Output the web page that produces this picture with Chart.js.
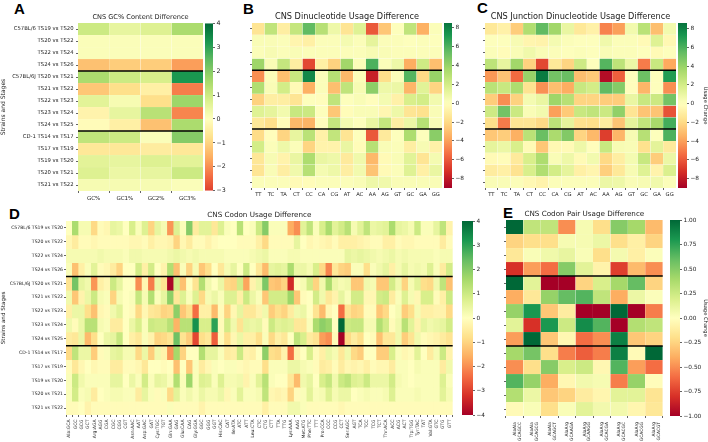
<!DOCTYPE html>
<html>
<head>
<meta charset="utf-8">
<title>CNS usage differences</title>
<script src="https://cdn.jsdelivr.net/npm/chart.js@4"></script>
<style>
    html, body { margin: 0; padding: 0; background: #fff; width: 708px; height: 442px; overflow: hidden; }
    canvas { position: absolute; }
    .letter { position: absolute; font: bold 15px "Liberation Sans", sans-serif; color: #000; line-height: 15px; }
</style>
</head>
<body>
<div class="letter" style="left:14px;top:1px">A</div>
<div class="letter" style="left:243px;top:1px">B</div>
<div class="letter" style="left:477px;top:0px">C</div>
<div class="letter" style="left:9px;top:206px">D</div>
<div class="letter" style="left:503px;top:205px">E</div>

<script>
// Row labels shared by panels A and D
const strainLabels = [
    'C57BL/6 TS19 vs TS20', 'TS20 vs TS22', 'TS22 vs TS24', 'TS24 vs TS26',
    'C57BL/6J TS20 vs TS21', 'TS21 vs TS22', 'TS22 vs TS23', 'TS23 vs TS24', 'TS24 vs TS25',
    'CD-1 TS14 vs TS17', 'TS17 vs TS19', 'TS19 vs TS20', 'TS20 vs TS21', 'TS21 vs TS22'
];
const strainBreaks = [4, 9];

// A
const gcLabels = ['GC%', 'GC1%', 'GC2%', 'GC3%'];
const gcValues = [
    [1, .5, .7, 1.5],
    [.1, .1, .1, .1],
    [.1, .1, .1, .1],
    [-1.3, -1.1, -1.1, -1.8],
    [1.5, 1, .8, 3.2],
    [-1.2, -.8, -.4, -2.2],
    [.6, .2, -.8, 1.7],
    [-.3, .5, 1.3, -2.1],
    [-.1, -.4, -1.3, 1.5],
    [1.2, 1, .1, 2],
    [-.6, -.6, -.5, -.6],
    [.6, .5, .7, .6],
    [.7, .4, .5, 1],
    [.2, .2, .2, .1]
];
const gcTicks = [4, 3, 2, 1, 0, -1, -2, -3];

// B and C
const dinucLabels = ['TT', 'TC', 'TA', 'CT', 'CC', 'CA', 'CG', 'AT', 'AC', 'AA', 'AG', 'GT', 'GC', 'GA', 'GG'];
const dinucValues = [
    [-1.5, 2.7, -1, 2.5, 5.5, 3, .8, -1.5, 1.5, -6, -2.7, .1, 2.7, -3.5, .2],
    [.3, .3, .2, -.6, -.9, .2, .2, .5, .2, 1.2, .2, .2, .1, .2, .1],
    [.2, .4, .2, .3, .2, .2, .2, .2, .2, .4, .3, .2, .2, .2, .2],
    [3.8, .3, 2.5, -1, -6.5, -.9, -2.3, 3.7, .2, 6, .2, .8, -3.6, 2.2, -3],
    [-4.5, .2, -3, 2.4, 7.8, .2, 3, -3.2, .2, -7.8, -1.8, .2, 5.8, -2, 4],
    [3.2, .3, 2, -.3, -3.5, .2, -3, 2.7, .4, 4.3, .8, .9, -3.3, 1.4, -2.2],
    [-2.3, -1, -1, -1.5, .1, -.1, 2.7, .1, .3, -.1, .5, -.8, 1.8, 2, .6],
    [1.5, 1.2, .6, 2.4, 2.3, .1, -2.7, -.2, .3, .3, -.5, .8, -1.5, -1.7, .3],
    [-1.3, -1.8, -.2, -3.2, -3.4, -.1, 2.5, .5, .1, 1, 2.5, -1, .9, 3, .3],
    [-1.9, -.1, -2.2, 1.1, 2.9, -.8, 2.6, -1.5, .1, -6, -1.2, .1, 3.3, .1, 4.4],
    [2, .2, .8, .2, -2.2, -.7, -.7, 1, -.2, 3, .3, .2, -1, .4, -.8],
    [-1.4, .4, -.7, 1, 3.3, 1, .8, -1.2, .7, -3.2, -.3, .3, 1.4, -1.5, .5],
    [-1.5, .3, -1, .7, 3, .5, .8, -1, .6, -2.8, -.3, .2, 1.5, -.9, 1],
    [.2, .2, .2, -.3, -.2, .2, .2, .2, .3, .8, .7, .3, .3, .3, .3]
];
const junctionValues = [
    [-1.3, -.8, -2.5, 3.2, 5.5, 3.7, 1, -1.3, -.8, -4.8, -4, .6, 2.9, -3, .6],
    [.1, .1, .4, -.6, -.7, .5, .2, .1, .1, .7, .2, .2, -.3, 1.5, -.4],
    [.2, -.2, .3, .7, .3, .2, .1, .2, .1, .3, .2, .2, .1, -.3, .1],
    [2.8, 1.1, 3.7, -2.3, -6.5, -1.3, -2.2, 2.2, .1, 5.8, 2.8, .9, -5, 2.4, -3.7],
    [-4.2, -2.8, -5.5, 4, 8.3, 5, 5.3, -3, -2.6, -8.5, -5.8, .1, 5.2, .1, 7],
    [2.9, 2.4, 3.3, -1.6, -4.4, -3, -3.6, 2.4, 2, 5.5, 4.5, -.1, -3.3, .1, -4.5],
    [-2.5, -4.5, -2.3, .5, 1, 3.8, 3, -2.2, -2.2, -2.5, -2.5, 1, 2.4, 2.3, 5],
    [2.2, 5, 2.3, .3, .6, -4, -2.6, 2.4, 2.7, 2.3, 4.2, -1.5, -2.8, -2.8, -6.2],
    [-1.8, -5, -1.5, -1.5, -2, 2.8, 1.2, -1.7, -1.8, -1.1, -2.8, 1.2, 2.6, 3.5, 6.2],
    [-2.7, -2.5, -3.5, 2.9, 5.3, 3.4, 4.6, -2.2, -3.2, -6.8, -3.3, .4, 3, .1, 6],
    [1.2, .9, 1.8, -.3, -2.7, -.4, -.3, .8, -.1, 2.4, .4, .3, -1.7, 1.3, -1.2],
    [-.3, -.2, -1.2, 1.8, 3.3, .3, .8, -.3, .6, -2, -1, .5, 2.4, -2.5, .9],
    [-1.1, -.9, -1.6, 1.8, 3.2, 2, 1.2, -.9, -.6, -2.4, -1.3, .4, 1.5, -.7, 1.7],
    [.3, .3, .2, -.4, -.7, .2, .2, .2, .2, .9, .8, .3, .4, .7, .2]
];
const dinucTicks = [8, 6, 4, 2, 0, -2, -4, -6, -8];

// D
const codonLabels = [
    'Ala:GCA', 'GCC', 'GCG', 'GCT', 'Arg:AGA', 'AGG', 'CGA', 'CGC', 'CGG', 'CGT',
    'Asn:AAC', 'AAT', 'Asp:GAC', 'GAT', 'Cys:TGC', 'TGT', 'Gln:GAA', 'GAG', 'Glu:CAA', 'CAG',
    'Gly:GGA', 'GGC', 'GGG', 'GGT', 'His:CAC', 'CAT', 'Ile:ATA', 'ATC', 'ATT', 'Leu:CTA',
    'CTC', 'CTG', 'CTT', 'TTA', 'TTG', 'Lys:AAA', 'AAG', 'Met:ATG', 'Phe:TTC', 'TTT',
    'Pro:CCA', 'CCC', 'CCG', 'CCT', 'Ser:AGC', 'AGT', 'TCA', 'TCC', 'TCG', 'TCT',
    'Thr:ACA', 'ACC', 'ACG', 'ACT', 'Trp:TGG', 'Tyr:TAC', 'TAT', 'Val:GTA', 'GTC', 'GTG', 'GTT'
];
const codonValues = [
    [0, 1.5, .2, .2, -.9, -.1, -.2, .5, .4, 0,
     .8, .1, .7, -1, .5, .2, -1.9, .7, .1, 2,
     -.5, .6, .6, -.6, .7, .1, 0, 1.3, 0, .1,
     1, 2, .1, .1, .1, -1.6, -2, .6, 1.2, .1,
     .8, 1.5, .6, .9, 1.3, .2, .6, 1.2, .4, .5,
     .6, 1.5, .5, .4, .2, 1, .1, .1, .5, 1.2, -.3],
    [-.2, -.5, -.1, -.1, -.2, -.1, -.1, -.1, -.1, -.1,
     -.2, -.2, -.1, -.4, -.2, -.2, -.3, -1, -.2, -.5,
     -.1, -.1, -.3, -.1, 0, 0, 0, -.1, -.1, -.1,
     -.4, -.9, -.1, -.1, -.1, -.1, .5, 0, -.2, -.1,
     -.2, -.3, -.1, -.4, -.4, -.4, -.3, -.2, -.1, -.1,
     -.4, -.4, -.1, -.2, -.2, -.1, -.1, -.1, -.1, -.5, -.1],
    [.2, .2, .2, .2, .2, .3, .2, .2, .2, .1,
     .3, .3, .2, .2, .2, .2, .3, .4, .3, .2,
     .3, .2, .2, .2, .2, .1, .1, .1, .1, .2,
     .3, .4, .1, .1, .1, .2, .2, .1, .1, .1,
     .1, .1, .1, .1, .5, .4, .5, .4, .3, .2,
     .3, .4, .2, .3, .2, .2, .2, .2, .1, .2, .2],
    [.1, -1.3, -.4, .1, .6, -.1, -.2, -.5, -1, 0,
     0, .9, -.4, .9, 0, -.3, 1.4, -1.3, .1, -1,
     .2, -1.2, -.8, 0, -.6, .2, .5, 0, 1, 0,
     -.6, -1.4, .5, .6, .5, 1.5, .4, .4, .2, .8,
     -.9, -2.1, -.6, -1, -1.1, .1, .1, -.8, .1, .3,
     .5, -.4, .2, .5, .2, .3, .2, .7, .1, -.5, .9],
    [-.7, 2.2, .5, .3, -1.9, -.4, -.2, 1, .5, 0,
     0, -2, -.2, -2.2, .4, -.7, -3.9, .9, -1.3, 0,
     -.7, 1.4, .3, 0, .4, -.9, -1, .9, -1.7, -.3,
     .4, 2.1, -1.2, -1.3, -1, -3.3, -.1, .2, .9, -1,
     .3, 1.5, .4, .2, .3, -1.2, -1.2, .3, .2, -1.2,
     -1.2, .9, .3, -1, .2, .6, -.8, -.9, .3, 1.2, -1.3],
    [.3, -1.2, -.3, .4, 1, .2, .1, -1, .2, 0,
     .1, 1.1, .2, 1.4, .1, .5, 1.9, -.6, .7, .1,
     .7, -.9, .2, .4, .1, .7, .7, -.4, 1, .4,
     .1, -1.2, .9, .9, .9, 1.7, -1.2, -.1, 0, .9,
     .3, -.6, -.3, .5, .1, .9, .9, -.2, -.2, .9,
     1, -.5, .1, .7, .2, -.2, .8, .8, -.1, -.4, 1],
    [-.4, .4, .4, -.8, -1.3, -.2, -.1, .3, .6, 0,
     -.1, -.9, -.2, -.6, -.7, -1, -.9, 1.9, -1.2, -.8,
     -2.4, -.4, -.4, -1.4, -.1, -1, -.2, .5, -.6, -.6,
     -.3, .3, -1.1, -.8, -1, -.5, .3, .4, 0, -.7,
     -1.4, -.2, 0, -2.4, -.7, -1, -.9, -.1, -.1, -1.2,
     -.9, 0, .2, -1.1, -.8, .2, -.4, -.4, -.3, -.3, -.9],
    [.3, -.1, .4, 1.3, 1.3, .2, .1, -.5, -.5, 0,
     .4, .8, .1, 1, .9, .9, 1.3, -1.5, 1.3, 1.3,
     3.3, .8, .8, 3, -.1, .9, .3, -.7, .5, .4,
     .5, -.1, 1, .6, .7, .6, -.6, -.6, .1, 1.5,
     1.9, 1.7, 0, 4, 1, 1.1, 1.1, .2, .2, 1.4,
     .9, -.1, .3, 1.3, .6, -.3, .5, .3, .4, .5, .9],
    [-.5, -.6, .4, -1.4, -.8, 0, .4, .5, 1.1, 0,
     -.4, -.6, .1, -.3, -1, -.9, -.7, 2.3, -.7, -1.1,
     -2.9, -.8, -.6, -2.6, -.1, -.8, -.2, .4, -.4, -.4,
     -.8, .1, -.9, -.4, -.6, 0, 1.2, .8, -.5, -.7,
     -1.8, -2, -.1, -4, -.9, -.5, -.8, 0, -.1, -1.3,
     -.6, -.6, .3, -1.1, -.7, .3, -.1, -.2, -.3, -.5, -.7],
    [-.9, 1.2, .4, .4, -1.1, -.1, .1, .5, .6, .2,
     .2, -.9, .4, -1.1, .3, -.3, -1.9, 1.6, -1, 0,
     0, 1.4, .5, .5, .1, -.5, -.4, 1, -.3, -.4,
     0, 1.9, -.8, -.9, -.3, -2.4, -.3, 0, .8, -.1,
     -.4, .4, .2, -.6, .3, -.9, -1.1, 0, 0, -1.1,
     -1.1, .8, .1, -.2, -.1, .6, 0, -.5, .2, 1, -.3],
    [-.1, -.6, -.2, 0, -.2, -.1, -.1, -.5, -.5, -.1,
     -.1, -.2, -.6, 0, 0, -.1, 0, -1.3, 0, -1.2,
     .1, -.5, -.2, .1, 0, .1, .1, -.1, -.2, -.1,
     -.1, -.8, .1, .1, .1, .4, .4, .2, .1, -.1,
     -.5, -.4, -.1, -.5, -.2, -.3, -.2, -.4, -.1, -.2,
     -.2, -.5, .1, .1, 0, .2, .1, .1, .1, -.5, .3],
    [.1, 1, .3, .1, .1, .1, .1, .5, .5, 0,
     .4, .1, .9, .1, .5, .4, .1, 1.4, .1, 1.7,
     .1, .7, .6, .1, .7, .2, .2, .3, -.3, .1,
     .6, 1.3, .1, 0, 0, -.6, -1.4, .3, .5, 0,
     .8, 1.1, .3, 1, 1.2, .7, .6, 1, .4, .4,
     .4, .9, .2, .1, 0, .1, .1, .1, .1, .7, .1],
    [.1, .9, .1, .2, -.5, 0, .1, .2, .2, .1,
     .1, -.5, .5, .1, -.1, .1, -.9, .6, .1, .3,
     .1, .4, .2, .2, .4, -.2, .1, .6, .1, .1,
     .2, 1.2, -.2, -.3, -.2, -1, -.1, .1, .6, .1,
     .2, .7, .2, .4, .4, 0, .1, .2, .1, .1,
     .2, .7, .1, .1, .1, .2, .1, .1, .1, .6, .2],
    [-.1, -.1, 0, -.3, -.1, -.1, -.1, -.1, -.1, -.1,
     -.1, -.1, -.1, -.1, -.1, -.1, .1, -.1, -.1, -.1,
     -.1, -.3, -.1, -.1, -.1, -.1, -.1, -.1, -.1, -.1,
     -.1, -.4, -.1, -.1, -.1, .3, .3, .1, -.1, -.1,
     -.1, -.1, -.1, -.2, -.1, -.1, -.1, -.1, -.1, -.1,
     -.1, -.1, -.1, -.1, -.1, -.1, -.1, -.1, -.1, -.1, -.1]
];
const codonTicks = [4, 3, 2, 1, 0, -1, -2, -3, -4];

// E
const pairLabels = [
    ['AlaAla', 'GCAGCC'], ['AlaAla', 'GCAGCG'], ['AlaAla', 'GCAGCT'],
    ['AlaArg', 'GCAAGA'], ['AlaArg', 'GCAAGG'], ['AlaArg', 'GCACGA'],
    ['AlaArg', 'GCACGC'], ['AlaArg', 'GCACGG'], ['AlaArg', 'GCACGT']
];
const pairValues = [
    [1, .3, .3, -.5, .05, -.2, .5, .4, -.35],
    [-.25, -.2, -.2, .05, .05, .1, -.2, -.1, -.25],
    [-.15, .03, .08, .12, .03, -.2, .06, -.1, .02],
    [-.8, -.45, -.6, .5, .15, -.08, -.75, -.35, -.5],
    [1, .15, -1, -1, -.25, .2, .4, .6, -.25],
    [-.4, -.15, .45, .6, .65, .3, -.4, .1, .02],
    [.45, .8, -.3, -.12, -1, -1, 1, -1, -.55],
    [.15, -.8, .8, .25, .85, .65, -1, .35, .3],
    [-.45, 1, -.3, -.05, -.6, -.5, .9, -.3, -.25],
    [.4, .55, -.2, -.55, -.65, -.55, .9, -.03, 1],
    [-.5, -.2, .5, .2, .25, -.05, .65, -.45, -.6],
    [.65, .45, -.4, -.05, .07, .05, -.55, .45, -.02],
    [.35, .1, -.3, -.25, -.12, -.06, .15, .15, -.17],
    [-.03, .03, -.2, .03, .15, .07, .07, -.06, -.15]
];
const pairTicks = [1, .75, .5, .25, 0, -.25, -.5, -.75, -1];

const RDYLGN = ['#a50026', '#d73027', '#f46d43', '#fdae61', '#fee08b', '#ffffbf', '#d9ef8b', '#a6d96a', '#66bd63', '#1a9850', '#006837'];
const FONT = '"DejaVu Sans", sans-serif';
const INK = '#222';

function hexToRgb(hex) {
    return [1, 3, 5].map(i => parseInt(hex.slice(i, i + 2), 16));
}

// value -> RdYlGn colour, centred on 0
function cellColor(value, limit) {
    const t = Math.max(0, Math.min(1, (value + limit) / (2 * limit))) * (RDYLGN.length - 1);
    const i = Math.min(Math.floor(t), RDYLGN.length - 2);
    const a = hexToRgb(RDYLGN[i]);
    const b = hexToRgb(RDYLGN[i + 1]);
    const c = a.map((v, k) => Math.round(v + (b[k] - v) * (t - i)));
    return `rgb(${c[0]}, ${c[1]}, ${c[2]})`;
}

function addCanvas(left, top, width, height) {
    const canvas = document.createElement('canvas');
    canvas.width = width;
    canvas.height = height;
    canvas.style.left = left + 'px';
    canvas.style.top = top + 'px';
    canvas.style.width = width + 'px';
    canvas.style.height = height + 'px';
    document.body.appendChild(canvas);
    return canvas;
}

const breakLines = {
    id: 'breakLines',
    afterDatasetsDraw(chart, args, opts) {
        const { ctx, chartArea, scales } = chart;
        ctx.save();
        ctx.strokeStyle = '#000';
        ctx.lineWidth = 1.5;
        opts.rows.forEach(row => {
            const y = scales.y.getPixelForValue(row);
            ctx.beginPath();
            ctx.moveTo(chartArea.left, y);
            ctx.lineTo(chartArea.right, y);
            ctx.stroke();
        });
        ctx.restore();
    }
};

// Heatmap as stacked unit bars, one dataset per row
function drawHeatmap(box, cfg) {
    const canvas = addCanvas(box.left, box.top, box.right - box.left, box.height);
    const rowCount = cfg.values.length;
    const titleSpace = box.plotTop - box.top;
    new Chart(canvas, {
        type: 'bar',
        data: {
            labels: cfg.labels,
            datasets: cfg.values.map(row => ({
                data: row.map(() => 1),
                backgroundColor: row.map(v => cellColor(v, cfg.limit)),
                borderColor: '#fff',
                borderWidth: cfg.cellLine,
                borderSkipped: false,
                barPercentage: 1,
                categoryPercentage: 1
            }))
        },
        options: {
            responsive: false,
            animation: false,
            events: [],
            layout: { padding: 0 },
            plugins: {
                legend: { display: false },
                tooltip: { enabled: false },
                title: {
                    display: true,
                    text: cfg.title,
                    fullSize: false,
                    color: INK,
                    font: { family: FONT, size: cfg.titleSize, weight: 'normal', lineHeight: 1 },
                    padding: { top: titleSpace - cfg.titleSize - 2, bottom: 2 }
                },
                breakLines: { rows: strainBreaks }
            },
            scales: {
                x: {
                    stacked: true,
                    afterFit: s => { s.height = box.top + box.height - box.plotBottom; },
                    grid: { drawOnChartArea: false, tickLength: 2, color: INK, lineWidth: .7 },
                    border: { display: false },
                    ticks: {
                        autoSkip: false,
                        color: INK,
                        padding: cfg.xPad,
                        font: { family: FONT, size: cfg.xSize, lineHeight: 1.1 },
                        minRotation: cfg.xRotation,
                        maxRotation: cfg.xRotation
                    }
                },
                y: {
                    stacked: true,
                    reverse: true,
                    min: 0,
                    max: rowCount,
                    afterFit: s => { s.width = box.plotLeft - box.left; },
                    afterBuildTicks: s => { s.ticks = cfg.values.map((r, i) => ({ value: i + 0.5 })); },
                    grid: { drawOnChartArea: false, tickLength: 2, color: INK, lineWidth: .7 },
                    border: { display: false },
                    title: {
                        display: !!cfg.yTitle,
                        text: cfg.yTitle,
                        color: INK,
                        padding: 0,
                        font: { family: FONT, size: cfg.yTitleSize }
                    },
                    ticks: {
                        autoSkip: false,
                        color: INK,
                        padding: cfg.yPad,
                        font: { family: FONT, size: cfg.ySize },
                        callback: v => cfg.rowLabels ? cfg.rowLabels[Math.floor(v)] : ''
                    }
                }
            }
        },
        plugins: [breakLines]
    });
}

// Colour bar: one floating bar filled with the colormap
function drawColorbar(box, cfg) {
    const margin = 5;
    const canvas = addCanvas(box.left, box.top - margin, box.right - box.left, box.bottom - box.top + 2 * margin);
    new Chart(canvas, {
        type: 'bar',
        data: {
            labels: [''],
            datasets: [{
                data: [[cfg.min, cfg.max]],
                barPercentage: 1,
                categoryPercentage: 1,
                inflateAmount: 0,
                backgroundColor: ctx => {
                    const chart = ctx.chart;
                    if (!chart.chartArea) return '#fff';
                    const y = chart.scales.y;
                    const grad = chart.ctx.createLinearGradient(0, y.getPixelForValue(cfg.min), 0, y.getPixelForValue(cfg.max));
                    for (let i = 0; i <= 40; i++) {
                        const v = cfg.min + (cfg.max - cfg.min) * i / 40;
                        grad.addColorStop(i / 40, cellColor(v, cfg.limit));
                    }
                    return grad;
                }
            }]
        },
        options: {
            responsive: false,
            animation: false,
            events: [],
            layout: { padding: { top: margin, bottom: margin } },
            plugins: { legend: { display: false }, tooltip: { enabled: false } },
            scales: {
                x: { display: false },
                y: {
                    position: 'right',
                    min: cfg.min,
                    max: cfg.max,
                    afterFit: s => { s.width = box.right - box.barRight; },
                    afterBuildTicks: s => { s.ticks = cfg.ticks.map(value => ({ value })); },
                    grid: { drawOnChartArea: false, tickLength: 2, color: INK, lineWidth: .7 },
                    border: { display: false },
                    title: {
                        display: !!cfg.title,
                        text: cfg.title,
                        color: INK,
                        padding: 0,
                        font: { family: FONT, size: 5.2 }
                    },
                    ticks: {
                        autoSkip: false,
                        color: INK,
                        padding: 1.5,
                        font: { family: FONT, size: cfg.tickSize },
                        callback: v => (v < 0 ? '\u2212' : '') + (cfg.digits ? Math.abs(v).toFixed(cfg.digits) : Math.abs(v))
                    }
                }
            }
        }
    });
}

drawHeatmap({ left: 0, right: 203, top: 0, height: 206, plotLeft: 78, plotTop: 23, plotBottom: 191 }, {
    title: 'CNS GC% Content Difference', titleSize: 6.6, values: gcValues, labels: gcLabels, limit: 4,
    rowLabels: strainLabels, yTitle: 'Strains and Stages', yTitleSize: 6, ySize: 5.3, yPad: 2.5,
    xSize: 5.5, xPad: 2.5, xRotation: 0, cellLine: .25
});
drawColorbar({ left: 205, barRight: 213, right: 228, top: 23, bottom: 191 }, {
    min: -3, max: 4, limit: 4, ticks: gcTicks, tickSize: 6.3
});

drawHeatmap({ left: 245, right: 442, top: 0, height: 206, plotLeft: 252, plotTop: 23, plotBottom: 188 }, {
    title: 'CNS Dinucleotide Usage Difference', titleSize: 8.2, values: dinucValues, labels: dinucLabels, limit: 9,
    xSize: 5.2, xPad: 1.5, yPad: 1.5, xRotation: 0, cellLine: .25
});
drawColorbar({ left: 444, barRight: 452, right: 468, top: 23, bottom: 188 }, {
    min: -9, max: 8.5, limit: 9, ticks: dinucTicks, tickSize: 5.8
});

drawHeatmap({ left: 478, right: 676, top: 0, height: 206, plotLeft: 485, plotTop: 23, plotBottom: 188 }, {
    title: 'CNS Junction Dinucleotide Usage Difference', titleSize: 8.2, values: junctionValues, labels: dinucLabels, limit: 9,
    xSize: 5.2, xPad: 1.5, yPad: 1.5, xRotation: 0, cellLine: .25
});
drawColorbar({ left: 678, barRight: 687, right: 708, top: 23, bottom: 188 }, {
    min: -9, max: 8.6, limit: 9, ticks: dinucTicks, tickSize: 5.8, title: 'Usage Change'
});

drawHeatmap({ left: 0, right: 457, top: 205, height: 237, plotLeft: 66, plotTop: 221, plotBottom: 415 }, {
    title: 'CNS Codon Usage Difference', titleSize: 7.2, values: codonValues, labels: codonLabels, limit: 4,
    rowLabels: strainLabels, yTitle: 'Strains and Stages', yTitleSize: 5.6, ySize: 4.6, yPad: 1,
    xSize: 4.5, xPad: 2.5, xRotation: 90, cellLine: 0
});
drawColorbar({ left: 462, barRight: 473, right: 490, top: 221, bottom: 415 }, {
    min: -4, max: 4, limit: 4, ticks: codonTicks, tickSize: 5.8
});

drawHeatmap({ left: 498, right: 668, top: 205, height: 237, plotLeft: 506, plotTop: 220, plotBottom: 416 }, {
    title: 'CNS Codon Pair Usage Difference', titleSize: 7.2, values: pairValues, labels: pairLabels, limit: 1,
    xSize: 4.4, xPad: 4, yPad: 1.5, xRotation: 90, cellLine: .25
});
drawColorbar({ left: 670, barRight: 680, right: 708, top: 220, bottom: 416 }, {
    min: -1, max: 1, limit: 1, ticks: pairTicks, tickSize: 5.8, digits: 2, title: 'Usage Change'
});
</script>
</body>
</html>
